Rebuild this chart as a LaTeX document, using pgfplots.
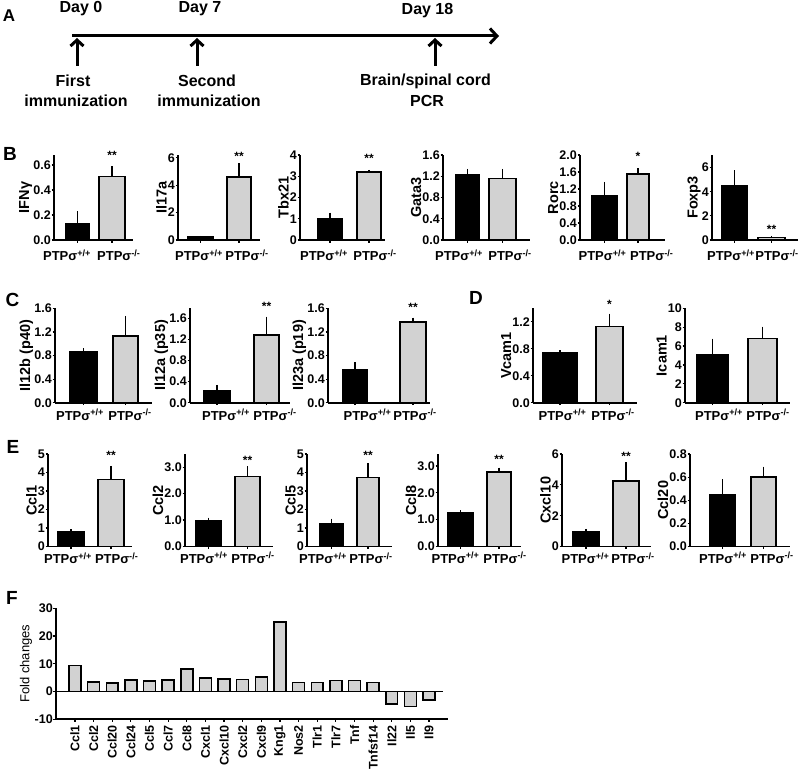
\documentclass[border=0pt]{standalone}
\usepackage{pgfplots}
\pgfplotsset{compat=1.18}
\usepackage{fontspec}
\setmainfont{Liberation Sans}
\usetikzlibrary{arrows.meta}
\newcommand{\fs}[1]{\fontsize{#1}{#1}\selectfont}
\tikzset{star/.style={font=\fs{12}\bfseries, anchor=base, inner sep=0pt},
         lab/.style={font=\fs{13}\bfseries, anchor=base, inner sep=0pt}}
\newcommand{\labs}[3]{%
  \node[lab, yshift=-#3pt] at (axis cs:#1,0) {PTPσ\textsuperscript{+/+}};
  \node[lab, yshift=-#3pt] at (axis cs:#2,0) {PTPσ\textsuperscript{-/-}};}
\pgfplotsset{
  bp/.style={
    scale only axis, anchor=south west, clip=false,
    axis lines=left, axis line style={-, line width=1.7pt},
    ymin=0,
    tick align=outside, major tick length=2.5pt,
    tick style={black, line width=1.2pt},
    yticklabel style={font=\fs{12.5}\bfseries, inner xsep=0.5pt},
    xticklabels={},
    ylabel style={font=\fs{14.5}\bfseries, inner sep=0pt},
    ylabel shift=0.5pt,
    /pgf/number format/assume math mode=true,
  },
  dec/.style={yticklabel style={/pgf/number format/fixed, /pgf/number format/fixed zerofill, /pgf/number format/precision=1}},
  eb/.style={error bars/y dir=plus, error bars/y explicit, error bars/error mark=none,
    error bars/error bar style={line width=1.8pt, black}},
  blackbar/.style={ybar, bar shift=0pt, fill=black, draw=black, line width=1.5pt, eb},
  graybar/.style={ybar, bar shift=0pt, fill=gray!35, draw=black, line width=1.5pt, eb},
}
\begin{document}
\begin{tikzpicture}
\useasboundingbox (0,0) rectangle (800pt,-770pt);

% ---------- Panel A ----------
\begin{scope}[x=1pt,y=-1pt]
\draw[line width=3pt, -{Straight Barb[length=7pt,width=15pt]}] (72,36) -- (499,36);
\foreach \x in {77,197,435}
  \draw[line width=3pt, -{Straight Barb[length=6pt,width=13pt]}] (\x,66) -- (\x,38);
\node[font=\fs{16}\bfseries] at (81,9) {Day 0};
\node[font=\fs{16}\bfseries] at (200,9) {Day 7};
\node[font=\fs{16}\bfseries] at (427.5,11) {Day 18};
\node[font=\fs{16}\bfseries] at (73,81) {First};
\node[font=\fs{16}\bfseries] at (76,101) {immunization};
\node[font=\fs{16}\bfseries] at (207,81) {Second};
\node[font=\fs{16}\bfseries] at (209,101) {immunization};
\node[font=\fs{16}\bfseries] at (425.5,81) {Brain/spinal cord};
\node[font=\fs{16}\bfseries] at (427,101) {PCR};
\node[font=\fs{17}\bfseries] at (9,16) {A};
\node[font=\fs{19}\bfseries] at (10,154) {B};
\node[font=\fs{19}\bfseries] at (12.5,300) {C};
\node[font=\fs{19}\bfseries] at (476,298) {D};
\node[font=\fs{19}\bfseries] at (13,447) {E};
\node[font=\fs{19}\bfseries] at (12,598) {F};
\end{scope}

% ---------- Panel B ----------
\begin{axis}[bp, dec, at={(54pt,-240pt)}, width=79pt, height=85pt, xmin=54, xmax=133, ymax=0.68,
  ytick={0,0.2,0.4,0.6}, xtick={77.5,112}, ylabel={IFNγ}]
\addplot[bar width=24, blackbar] coordinates {(77.5,0.13) +- (0,0.10)};
\addplot[bar width=26, graybar] coordinates {(112,0.51) +- (0,0.08)};
\node[star] at (axis cs:112,0.64) {**};
\labs{67}{118.8}{20.5}
\end{axis}

\begin{axis}[bp, at={(178pt,-240pt)}, width=82pt, height=85pt, xmin=178, xmax=260, ymax=6.2,
  ytick={0,2,4,6}, xtick={200.5,239}, ylabel={Il17a}]
\addplot[bar width=25, blackbar] coordinates {(200.5,0.27) +- (0,0.03)};
\addplot[bar width=24, graybar] coordinates {(239,4.6) +- (0,1.0)};
\node[star] at (axis cs:239,5.83) {**};
\labs{199}{247}{20.5}
\end{axis}

\begin{axis}[bp, at={(300pt,-240pt)}, width=85pt, height=85pt, xmin=300, xmax=385, ymax=4,
  ytick={0,1,2,3,4}, xtick={330,369}, ylabel={Tbx21}]
\addplot[bar width=24, blackbar] coordinates {(330,0.99) +- (0,0.3)};
\addplot[bar width=24, graybar] coordinates {(369,3.19) +- (0,0.11)};
\node[star] at (axis cs:369,3.67) {**};
\labs{324}{375}{20.5}
\end{axis}

\begin{axis}[bp, dec, at={(443pt,-240pt)}, width=87pt, height=85pt, xmin=443, xmax=530, ymax=1.6,
  ytick={0,0.4,0.8,1.2,1.6}, xtick={467.5,502.5}, ylabel={Gata3}]
\addplot[bar width=23, blackbar] coordinates {(467.5,1.23) +- (0,0.11)};
\addplot[bar width=27, graybar] coordinates {(502.5,1.16) +- (0,0.18)};
\labs{459}{510}{20.5}
\end{axis}

\begin{axis}[bp, dec, at={(580pt,-240pt)}, width=85pt, height=85pt, xmin=580, xmax=665, ymax=2.0,
  ytick={0,0.4,0.8,1.2,1.6,2.0}, xtick={604.5,638}, ylabel={Rorc}]
\addplot[bar width=25, blackbar] coordinates {(604.5,1.04) +- (0,0.33)};
\addplot[bar width=22, graybar] coordinates {(638,1.55) +- (0,0.14)};
\node[star] at (axis cs:638,1.88) {*};
\labs{602.5}{651.7}{20.5}
\end{axis}

\begin{axis}[bp, at={(712pt,-240pt)}, width=86pt, height=85pt, xmin=712, xmax=798, ymax=7.05,
  ytick={0,2,4,6}, xtick={734.5,771.5}, ylabel={Foxp3}]
\addplot[bar width=25, blackbar] coordinates {(734.5,4.5) +- (0,1.3)};
\addplot[bar width=27, graybar] coordinates {(771.5,0.2) +- (0,0.15)};
\node[star] at (axis cs:771.5,0.5) {**};
\labs{731}{777}{20.5}
\end{axis}

% ---------- Panel C ----------
\begin{axis}[bp, dec, at={(55pt,-402.7pt)}, width=97pt, height=94.4pt, xmin=55, xmax=152, ymax=1.6,
  ytick={0,0.4,0.8,1.2,1.6}, xtick={83.5,125.5}, ylabel={Il12b (p40)}]
\addplot[bar width=27, blackbar] coordinates {(83.5,0.865) +- (0,0.055)};
\addplot[bar width=25, graybar] coordinates {(125.5,1.13) +- (0,0.34)};
\labs{80}{130}{17.5}
\end{axis}

\begin{axis}[bp, dec, at={(190pt,-402.7pt)}, width=100pt, height=94.4pt, xmin=190, xmax=290, ymax=1.79,
  ytick={0,0.4,0.8,1.2,1.6}, xtick={217,266.5}, ylabel={Il12a (p35)}]
\addplot[bar width=26, blackbar] coordinates {(217,0.22) +- (0,0.12)};
\addplot[bar width=25, graybar] coordinates {(266.5,1.28) +- (0,0.35)};
\node[star] at (axis cs:266.5,1.74) {**};
\labs{226}{275}{17.5}
\end{axis}

\begin{axis}[bp, dec, at={(328pt,-402.7pt)}, width=102pt, height=94.4pt, xmin=328, xmax=430, ymax=1.6,
  ytick={0,0.4,0.8,1.2,1.6}, xtick={355,413}, ylabel={Il23a (p19)}]
\addplot[bar width=24, blackbar] coordinates {(355,0.555) +- (0,0.13)};
\addplot[bar width=26, graybar] coordinates {(413,1.37) +- (0,0.07)};
\node[star] at (axis cs:413,1.55) {**};
\labs{367.5}{415}{17.5}
\end{axis}

% ---------- Panel D ----------
\begin{axis}[bp, dec, at={(533pt,-402.7pt)}, width=104pt, height=94.4pt, xmin=533, xmax=637, ymax=1.40,
  ytick={0,0.4,0.8,1.2}, xtick={560,609.5}, ylabel={Vcam1}]
\addplot[bar width=34, blackbar] coordinates {(560,0.74) +- (0,0.04)};
\addplot[bar width=27, graybar] coordinates {(609.5,1.13) +- (0,0.19)};
\node[star] at (axis cs:609.5,1.39) {*};
\labs{562.5}{613}{17.5}
\end{axis}

\begin{axis}[bp, at={(685pt,-402.7pt)}, width=105pt, height=94.4pt, xmin=685, xmax=790, ymax=10,
  ytick={0,2,4,6,8,10}, xtick={712.5,762.5}, ylabel={Icam1}]
\addplot[bar width=31, blackbar] coordinates {(712.5,5.05) +- (0,1.75)};
\addplot[bar width=29, graybar] coordinates {(762.5,6.8) +- (0,1.25)};
\labs{719}{768}{17.5}
\end{axis}

% ---------- Panel E ----------
\begin{axis}[bp, at={(48pt,-546.5pt)}, width=84pt, height=92.5pt, xmin=48, xmax=132, ymax=5,
  ytick={0,1,2,3,4,5}, xtick={71,111}, ylabel={Ccl1}]
\addplot[bar width=26, blackbar] coordinates {(71,0.79) +- (0,0.14)};
\addplot[bar width=26, graybar] coordinates {(111,3.63) +- (0,0.73)};
\node[star] at (axis cs:111,4.68) {**};
\labs{68}{116.7}{17}
\end{axis}

\begin{axis}[bp, dec, at={(185pt,-546.5pt)}, width=88pt, height=92.5pt, xmin=185, xmax=273, ymax=3.5,
  ytick={0,1,2,3}, xtick={208.5,247.5}, ylabel={Ccl2}]
\addplot[bar width=25, blackbar] coordinates {(208.5,0.96) +- (0,0.13)};
\addplot[bar width=25, graybar] coordinates {(247.5,2.64) +- (0,0.40)};
\node[star] at (axis cs:247.5,3.12) {**};
\labs{204}{253}{16.5}
\end{axis}

\begin{axis}[bp, at={(307pt,-546.5pt)}, width=85pt, height=92.5pt, xmin=307, xmax=392, ymax=5,
  ytick={0,1,2,3,4,5}, xtick={331.5,368}, ylabel={Ccl5}]
\addplot[bar width=23, blackbar] coordinates {(331.5,1.22) +- (0,0.29)};
\addplot[bar width=22, graybar] coordinates {(368,3.73) +- (0,0.76)};
\node[star] at (axis cs:368,4.68) {**};
\labs{323}{371}{17}
\end{axis}

\begin{axis}[bp, dec, at={(438pt,-546.5pt)}, width=83pt, height=92.5pt, xmin=438, xmax=521, ymax=3.45,
  ytick={0,1,2,3}, xtick={460.5,499}, ylabel={Ccl8}]
\addplot[bar width=25, blackbar] coordinates {(460.5,1.275) +- (0,0.07)};
\addplot[bar width=24, graybar] coordinates {(499,2.78) +- (0,0.16)};
\node[star] at (axis cs:499,3.11) {**};
\labs{455.5}{505}{16.5}
\end{axis}

\begin{axis}[bp, at={(562pt,-546.5pt)}, width=89pt, height=92.5pt, xmin=562, xmax=651, ymax=6,
  ytick={0,2,4,6}, xtick={586,626}, ylabel={Cxcl10}]
\addplot[bar width=26, blackbar] coordinates {(586,0.98) +- (0,0.16)};
\addplot[bar width=26, graybar] coordinates {(626,4.25) +- (0,1.2)};
\node[star] at (axis cs:626,5.61) {**};
\labs{585.5}{633}{17}
\end{axis}

\begin{axis}[bp, dec, at={(690pt,-546.5pt)}, width=100pt, height=92.5pt, xmin=690, xmax=790, ymax=0.8,
  ytick={0,0.2,0.4,0.6,0.8}, xtick={722.5,763.5}, ylabel={Ccl20}]
\addplot[bar width=25, blackbar] coordinates {(722.5,0.45) +- (0,0.13)};
\addplot[bar width=25, graybar] coordinates {(763.5,0.6) +- (0,0.09)};
\labs{723}{772}{16.5}
\end{axis}

% ---------- Panel F ----------
\begin{axis}[scale only axis, anchor=south west, clip=false,
  at={(56pt,-719.3pt)}, width=392pt, height=111pt,
  axis lines=left, axis line style={-, line width=1.7pt},
  xmin=-1.02, xmax=20.02, ymin=-10, ymax=30,
  ytick={-10,0,10,20,30}, xtick={0,...,19},
  tick align=outside, major tick length=2.5pt, tick style={black, line width=1.2pt},
  /pgf/number format/assume math mode=true,
  yticklabel style={font=\fs{12.5}\bfseries, inner xsep=0.5pt},
  xticklabel style={font=\fs{12.5}\bfseries, rotate=90, anchor=east},
  xticklabels={Ccl1,Ccl2,Ccl20,Ccl24,Ccl5,Ccl7,Ccl8,Cxcl1,Cxcl10,Cxcl2,Cxcl9,Kng1,Nos2,Tlr1,Tlr7,Tnf,Tnfsf14,Il22,Il5,Il9},
  ylabel={Fold changes}, ylabel style={font=\fs{13}, inner sep=0pt}, ylabel shift=2pt]
\addplot[ybar, bar shift=0pt, bar width=0.64, fill=gray!35, draw=black, line width=1.5pt] coordinates {
 (0,9.4) (1,3.4) (2,3.0) (3,4.2) (4,3.8) (5,4.2) (6,8.2) (7,4.8) (8,4.6) (9,4.3)
 (10,5.2) (11,25) (12,3.2) (13,3.2) (14,4.0) (15,4.0) (16,3.2) (17,-4.4) (18,-5.3) (19,-3.1)};
\draw[line width=1.7pt] (axis cs:-1.02,0) -- (axis cs:19.75,0);
\end{axis}
\end{tikzpicture}
\end{document}
